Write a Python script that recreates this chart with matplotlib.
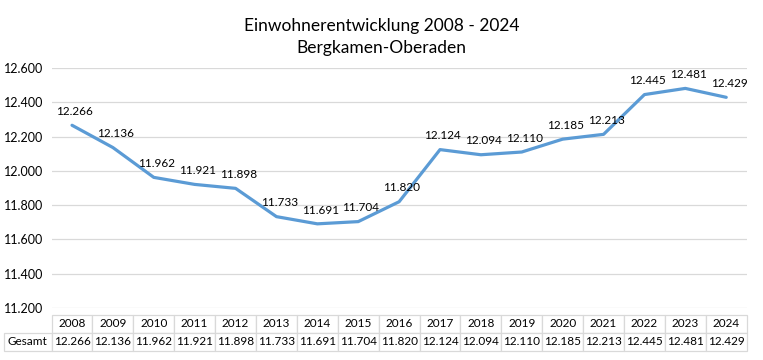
import matplotlib.pyplot as plt
import numpy as np

# population per year
years = ['2008', '2009', '2010', '2011', '2012', '2013', '2014', '2015', '2016',
         '2017', '2018', '2019', '2020', '2021', '2022', '2023', '2024']
gesamt = [12266, 12136, 11962, 11921, 11898, 11733, 11691, 11704, 11820,
          12124, 12094, 12110, 12185, 12213, 12445, 12481, 12429]
y_ticks = [11200, 11400, 11600, 11800, 12000, 12200, 12400, 12600]


def de_fmt(v):
    return '{:,}'.format(v).replace(',', '.')


plt.rcParams['font.family'] = ['Lato', 'DejaVu Sans']

fig = plt.figure(figsize=(7.63, 3.6), dpi=100)
ax = fig.add_axes([0.0676, 0.1444, 0.911, 0.6667])

x = np.arange(len(years))
ax.plot(x, gesamt, color='#5B9BD5', lw=2.3, solid_capstyle='round', zorder=3)
for xi, v in zip(x, gesamt):
    ax.annotate(de_fmt(v), (xi, v), xytext=(2, 6), textcoords='offset points',
                ha='center', va='bottom', fontsize=8.5, color='black')

ax.set_xlim(-0.5, len(years) - 0.5)
ax.set_ylim(11200, 12600)
ax.set_yticks(y_ticks)
ax.set_yticklabels([de_fmt(t) for t in y_ticks], fontsize=9)
ax.set_xticks([])
ax.tick_params(axis='y', length=0, pad=6)
ax.grid(axis='y', color='#d9d9d9', lw=0.9)
ax.set_axisbelow(True)
for s in ax.spines.values():
    s.set_visible(False)

# data table under the plot
tbl = ax.table(cellText=[[de_fmt(v) for v in gesamt]], rowLabels=['Gesamt'],
               colLabels=years, cellLoc='center', rowLoc='center',
               bbox=[0, -0.179, 1, 0.15])
tbl.auto_set_font_size(False)
tbl.set_fontsize(8.5)
for cell in tbl.get_celld().values():
    cell.set_edgecolor('#d9d9d9')
    cell.set_linewidth(0.9)

fig.text(0.5, 0.95, 'Einwohnerentwicklung 2008 - 2024\nBergkamen-Oberaden',
         ha='center', va='top', fontsize=12.5, linespacing=1.45)

fig.savefig('out.png', dpi=100)
